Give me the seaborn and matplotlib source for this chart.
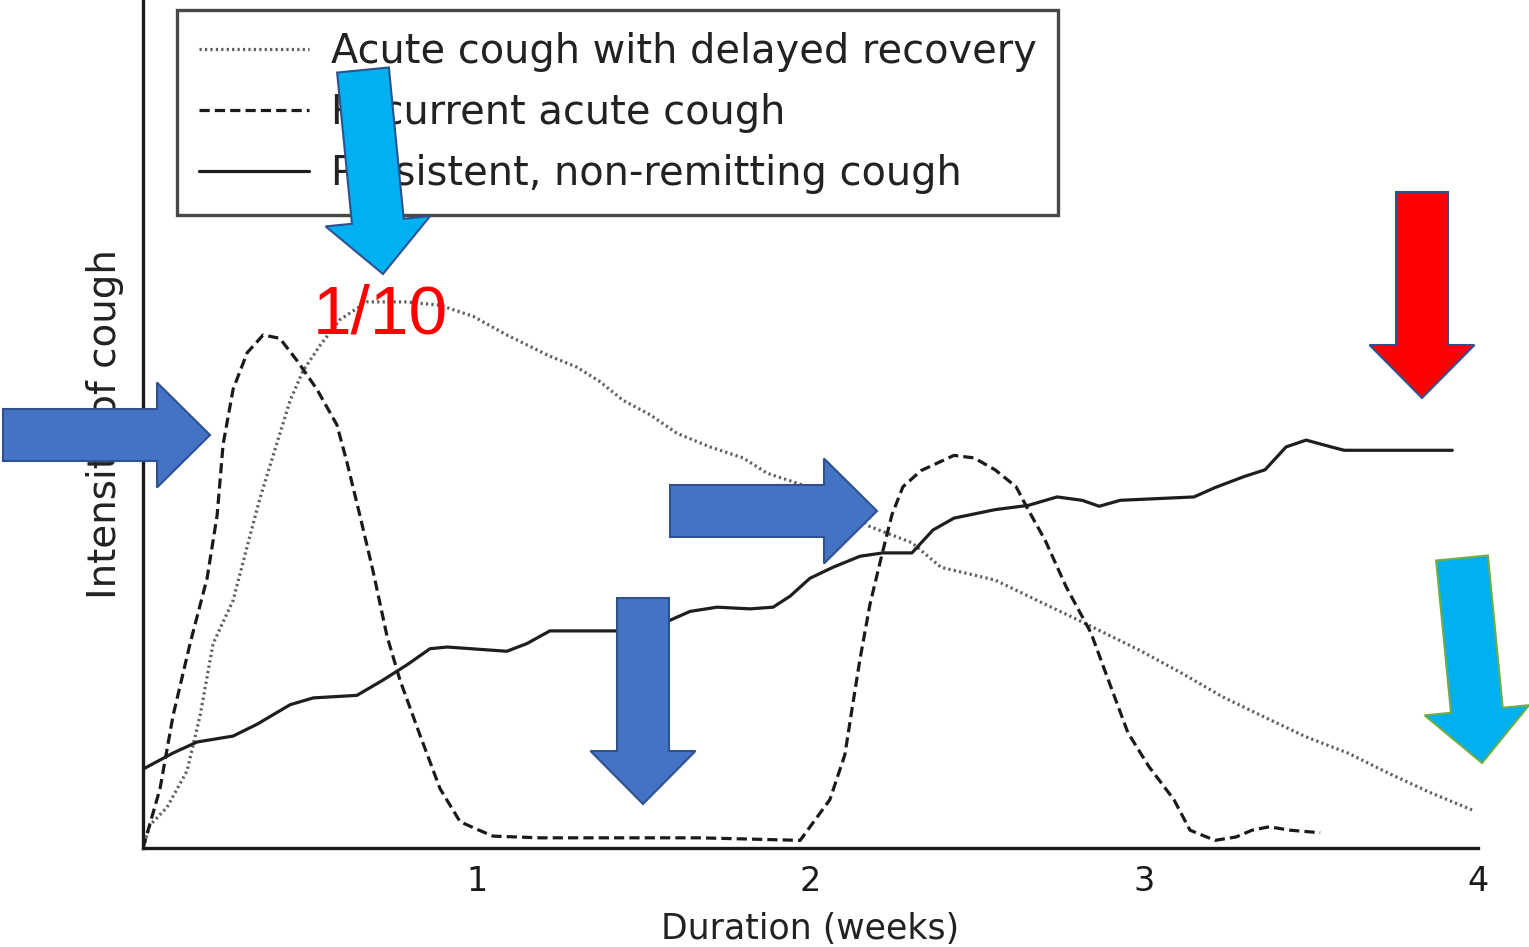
import numpy as np
import pandas as pd
import matplotlib
matplotlib.use("Agg")
import matplotlib.pyplot as plt
import seaborn as sns
from matplotlib.patches import FancyArrow
from matplotlib.transforms import Affine2D

# Werte (Dauer in Wochen, Intensitaet 0..10)
delayed_x = [0.000, 0.021, 0.072, 0.132, 0.171, 0.210, 0.270, 0.321, 0.351, 0.390,
             0.441, 0.480, 0.531, 0.590, 0.671, 0.791, 0.890, 0.989, 1.090, 1.219,
             1.300, 1.369, 1.438, 1.519, 1.600, 1.699, 1.798, 1.870, 1.969, 2.067,
             2.178, 2.304, 2.391, 2.553, 2.679, 2.801, 2.987, 3.113, 3.236, 3.362,
             3.485, 3.610, 3.733, 3.859, 3.982]
delayed_y = [0.00, 0.27, 0.48, 0.91, 1.56, 2.41, 2.92, 3.69, 4.13, 4.63,
             5.28, 5.63, 5.93, 6.23, 6.44, 6.44, 6.40, 6.27, 6.05, 5.80,
             5.67, 5.50, 5.28, 5.11, 4.89, 4.73, 4.60, 4.42, 4.29, 4.13,
             3.79, 3.60, 3.31, 3.16, 2.92, 2.69, 2.33, 2.06, 1.78, 1.54,
             1.31, 1.12, 0.88, 0.65, 0.45]

recurrent_x = [0.000, 0.051, 0.090, 0.141, 0.192, 0.222, 0.240, 0.270, 0.312, 0.360,
               0.410, 0.461, 0.521, 0.581, 0.611, 0.650, 0.689, 0.731, 0.770, 0.830,
               0.890, 0.950, 1.001, 1.049, 1.190, 1.369, 1.669, 1.969, 2.058, 2.103,
               2.124, 2.148, 2.178, 2.214, 2.244, 2.277, 2.331, 2.430, 2.490, 2.553,
               2.616, 2.652, 2.703, 2.766, 2.840, 2.900, 2.951, 3.014, 3.089, 3.137,
               3.212, 3.275, 3.323, 3.374, 3.437, 3.527]
recurrent_y = [0.00, 0.70, 1.56, 2.41, 3.18, 3.92, 4.76, 5.41, 5.84, 6.05,
               6.01, 5.75, 5.41, 4.99, 4.55, 3.92, 3.27, 2.50, 1.98, 1.33,
               0.70, 0.31, 0.22, 0.14, 0.12, 0.12, 0.12, 0.09, 0.57, 1.10,
               1.63, 2.22, 2.87, 3.46, 3.93, 4.26, 4.45, 4.63, 4.60, 4.46,
               4.26, 3.99, 3.63, 3.08, 2.54, 1.90, 1.36, 0.96, 0.57, 0.21,
               0.09, 0.13, 0.21, 0.25, 0.21, 0.18]

persistent_x = [0.000, 0.090, 0.162, 0.270, 0.342, 0.441, 0.510, 0.641, 0.719, 0.791,
                0.860, 0.911, 1.090, 1.150, 1.219, 1.420, 1.570, 1.639, 1.720, 1.819,
                1.888, 1.939, 1.998, 2.067, 2.148, 2.217, 2.304, 2.367, 2.430, 2.553,
                2.652, 2.739, 2.814, 2.865, 2.928, 3.149, 3.212, 3.299, 3.362, 3.425,
                3.485, 3.560, 3.599, 3.923]
persistent_y = [0.93, 1.12, 1.25, 1.32, 1.46, 1.69, 1.77, 1.80, 1.98, 2.16,
                2.35, 2.37, 2.32, 2.41, 2.56, 2.56, 2.67, 2.79, 2.84, 2.82,
                2.84, 2.97, 3.18, 3.31, 3.44, 3.48, 3.48, 3.75, 3.89, 3.99,
                4.04, 4.14, 4.10, 4.03, 4.10, 4.14, 4.25, 4.38, 4.46, 4.73,
                4.81, 4.73, 4.69, 4.69]

patterns = ["Acute cough with delayed recovery",
            "Recurrent acute cough",
            "Persistent, non-remitting cough"]
week_ticks = [1, 2, 3, 4]

# Pfeile als Overlay (Bildpixel: x0, y0, x1, y1, Fuellung, Rand)
overlay_arrows = [
    (3, 435, 210, 435, "#4472C4", "#2F528F"),
    (670, 511, 877, 511, "#4472C4", "#2F528F"),
    (643, 598, 643, 804, "#4472C4", "#2F528F"),
    (363, 70, 383, 274, "#00B0F0", "#2F528F"),
    (1422, 192, 1422, 398, "#FF0000", "#2F528F"),
    (1462, 558, 1482, 763, "#00B0F0", "#70AD47"),
]

frames = []
for name, xs, ys in zip(patterns, [delayed_x, recurrent_x, persistent_x],
                        [delayed_y, recurrent_y, persistent_y]):
    frames.append(pd.DataFrame({"weeks": xs, "intensity": ys, "pattern": name}))
df = pd.concat(frames, ignore_index=True)

sns.set_style("white")
plt.rcParams["font.family"] = ["DejaVu Sans"]

W, H = 1529, 947
fig = plt.figure(figsize=(W / 100, H / 100), dpi=100)
ax = fig.add_axes([143 / W, 99 / H, 1335 / W, 848 / H])

sns.lineplot(data=df, x="weeks", y="intensity", hue="pattern", style="pattern",
             hue_order=patterns, style_order=patterns,
             palette={patterns[0]: "#5e5e5e", patterns[1]: "#1a1a1a", patterns[2]: "#1e1e1e"},
             dashes={patterns[0]: (0.7, 1.0), patterns[1]: (3.2, 1.6), patterns[2]: ""},
             sort=False, estimator=None, linewidth=2.3, ax=ax)

ax.set_xlim(0, 4)
ax.set_ylim(0, 10)
ax.set_xticks(week_ticks)
ax.set_xticklabels([str(t) for t in week_ticks])
ax.set_yticks([])
ax.tick_params(axis="x", direction="in", length=24, width=1.6, labelsize=24,
               pad=12, colors="#1a1a1a")
for side in ["top", "right"]:
    ax.spines[side].set_visible(False)
for side in ["left", "bottom"]:
    ax.spines[side].set_linewidth(2.4)
    ax.spines[side].set_color("#1a1a1a")

# im Original ist die Achsenbeschriftung unten knapp angeschnitten
ax.set_xlabel("Duration (weeks)", fontsize=25, labelpad=10, color="#222222")
ax.set_ylabel("Intensity of cough", fontsize=28, labelpad=14, color="#222222")

handles, labels = ax.get_legend_handles_labels()
leg = ax.legend(handles, labels, loc="upper left", bbox_to_anchor=(0.0255, 0.988),
                borderaxespad=0, fontsize=28.7, handlelength=2.75, handletextpad=0.55,
                labelspacing=0.52, borderpad=0.55, fancybox=False, frameon=True)
leg.get_frame().set_edgecolor("#1a1a1a")
leg.get_frame().set_linewidth(2.4)
for t in leg.get_texts():
    t.set_color("#222222")

# Pixel-Transformation (y nach unten) fuer die Overlays
px = Affine2D().scale(1 / 100, -1 / 100).translate(0, H / 100) + fig.dpi_scale_trans
for x0, y0, x1, y1, fc, ec in overlay_arrows:
    arr = FancyArrow(x0, y0, x1 - x0, y1 - y0, width=52, head_width=105,
                     head_length=53, length_includes_head=True,
                     facecolor=fc, edgecolor=ec, linewidth=1.5,
                     transform=px, zorder=10)
    fig.add_artist(arr)

fig.text(313 / W, 1 - 333 / H, "1/10", ha="left", va="baseline", fontsize=50,
         color="#FF0000", family="Liberation Sans", zorder=11)

fig.savefig("out.png", dpi=100, facecolor="white")
